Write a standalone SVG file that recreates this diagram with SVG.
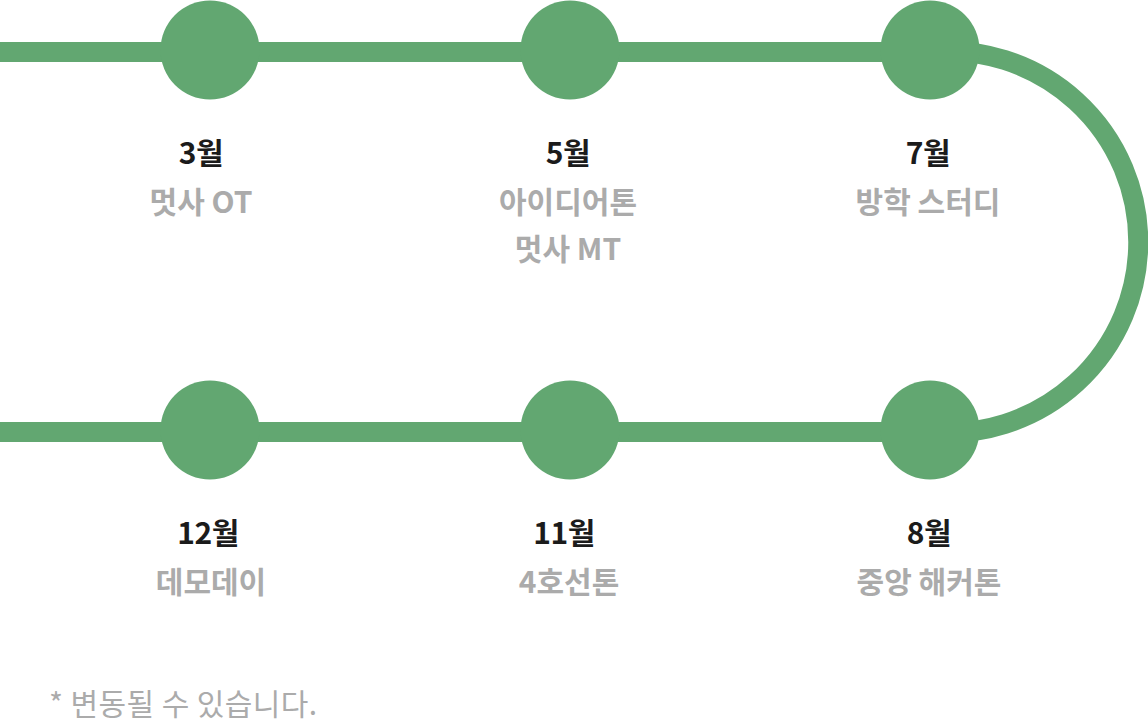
<svg xmlns="http://www.w3.org/2000/svg" width="1148" height="724" viewBox="0 0 1148 724">
  <style>
    .track { fill: none; stroke: #62a771; stroke-width: 20; }
    .dot { fill: #62a771; }
    .month { font-family: "Noto Sans CJK KR", "Noto Sans", sans-serif; font-size: 30px; font-weight: 700; fill: #1b1b1b; text-anchor: middle; letter-spacing: -0.5px; }
    .event { font-family: "Noto Sans CJK KR", "Noto Sans", sans-serif; font-size: 30px; font-weight: 700; fill: #ababab; text-anchor: middle; letter-spacing: 0px; }
    .note { font-family: "Noto Sans CJK KR", "Noto Sans", sans-serif; font-size: 30px; font-weight: 400; fill: #ababab; letter-spacing: 0.4px; }
  </style>
  <rect width="1148" height="724" fill="#ffffff"/>
  <g id="connectors">
    <path class="track" d="M0,52 H930"/>
    <path class="track" d="M0,432 H930"/>
    <path class="track" d="M930,52 A190.8,190.8 0 1 1 930,432"/>
  </g>
  <g id="node-mar">
    <circle class="dot" cx="210" cy="50" r="49.5"/>
    <text class="month" x="201" y="164">3월</text>
    <text class="event" x="201" y="213">멋사 OT</text>
  </g>
  <g id="node-may">
    <circle class="dot" cx="570" cy="50" r="49.5"/>
    <text class="month" x="568" y="164">5월</text>
    <text class="event" x="568" y="213">아이디어톤</text>
    <text class="event" x="568" y="260">멋사 MT</text>
  </g>
  <g id="node-jul">
    <circle class="dot" cx="930" cy="50" r="49.5"/>
    <text class="month" x="928" y="164">7월</text>
    <text class="event" x="928" y="213">방학 스터디</text>
  </g>
  <g id="node-aug">
    <circle class="dot" cx="930" cy="430" r="49.5"/>
    <text class="month" x="929" y="544">8월</text>
    <text class="event" x="929" y="593">중앙 해커톤</text>
  </g>
  <g id="node-nov">
    <circle class="dot" cx="570" cy="430" r="49.5"/>
    <text class="month" x="564" y="544">11월</text>
    <text class="event" x="569" y="593">4호선톤</text>
  </g>
  <g id="node-dec">
    <circle class="dot" cx="210" cy="430" r="49.5"/>
    <text class="month" x="208" y="544">12월</text>
    <text class="event" x="211" y="593">데모데이</text>
  </g>
  <g id="footnote">
    <text class="note" x="49" y="715">* 변동될 수 있습니다.</text>
  </g>
</svg>
